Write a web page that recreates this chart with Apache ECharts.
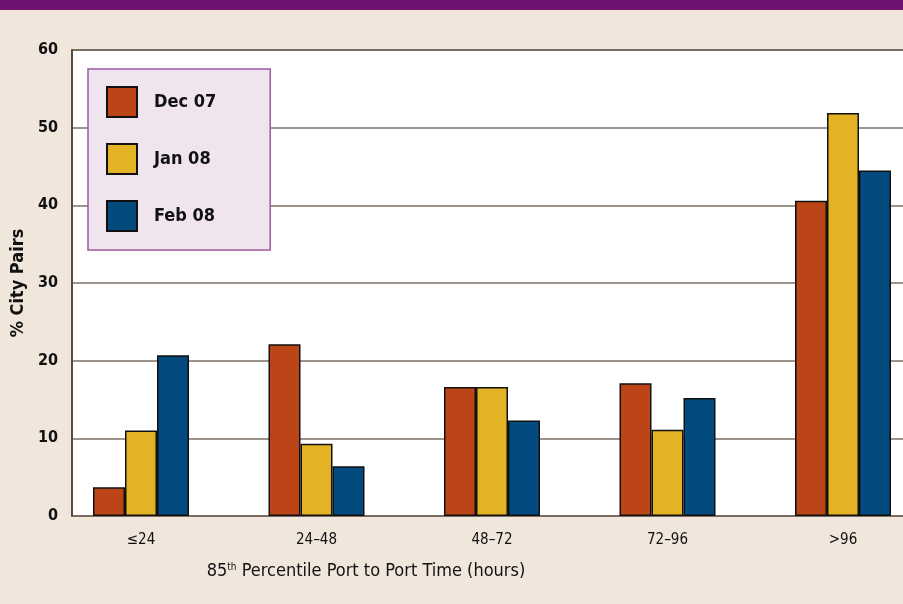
<!DOCTYPE html>
<html><head><meta charset="utf-8">
<script src="https://cdn.jsdelivr.net/npm/echarts@6/dist/echarts.min.js"></script>
<style>html,body{margin:0;padding:0;background:#f0e6dc;overflow:hidden;}#wrap{width:903px;height:604px;overflow:hidden;position:relative;}#c{width:940px;height:604px;}</style>
</head><body><div id="wrap"><div id="c"></div></div>
<script>
const categories = ['≤24', '24–48', '48–72', '72–96', '>96'];
const dec07 = [3.7, 22.1, 16.6, 17.1, 40.6];
const jan08 = [11.0, 9.3, 16.6, 11.1, 51.9];
const feb08 = [20.7, 6.4, 12.3, 15.2, 44.5];
const seriesNames = ['Dec 07', 'Jan 08', 'Feb 08'];
const yTicks = { min: 0, max: 60, interval: 10 };

const FONT = '"Liberation Sans Narrow","DejaVu Sans Condensed","Roboto Condensed",Arial,sans-serif';
const colors = ['#bc4518', '#e4b225', '#034a7e'];
const chart = echarts.init(document.getElementById('c'));
const mk = (name, data, i) => ({
  name, type: 'bar', data, xAxisIndex: 0, yAxisIndex: 0,
  barWidth: 32, barGap: '0%',
  itemStyle: { color: colors[i], borderColor: '#111', borderWidth: 1.5 }
});
chart.setOption({
  backgroundColor: '#f0e6dc',
  animation: false,
  textStyle: { fontFamily: FONT },
  graphic: [{ type: 'rect', left: 0, top: 0, shape: { width: 940, height: 10 }, style: { fill: '#6e1470' } }],
  legend: {
    orient: 'vertical', left: 88, top: 69,
    backgroundColor: '#f0e4ef', borderColor: '#9c5aa0', borderWidth: 1.5, borderRadius: 0,
    padding: [17, 54, 18, 18],
    itemWidth: 30, itemHeight: 30, itemGap: 25,
    icon: 'rect',
    textStyle: { fontFamily: FONT, fontWeight: 'bold', fontSize: 18, color: '#111', padding: [0, 0, 0, 12] },
    data: seriesNames
  },
  grid: [
    { left: 53.25, width: 877.5, top: 50, bottom: 88 },
    { left: 72, width: 850, top: 50, bottom: 88, show: true, backgroundColor: '#ffffff', borderColor: '#4f3f30', borderWidth: 1.5 }
  ],
  xAxis: [
    {
      type: 'category', gridIndex: 0, data: categories,
      axisLine: { show: false }, axisTick: { show: false },
      axisLabel: { fontFamily: FONT, fontSize: 15, color: '#111', margin: 17 },
      name: '{a|85}{s|th}{a| Percentile Port to Port Time (hours)}',
      nameLocation: 'middle', nameGap: 46,
      nameTextStyle: {
        padding: [0, 252, 0, 0],
        rich: {
          a: { fontFamily: FONT, fontSize: 18, color: '#111' },
          s: { fontFamily: FONT, fontSize: 10, color: '#111', verticalAlign: 'top', padding: [0, 0, 8, 0] }
        }
      }
    },
    { type: 'value', gridIndex: 1, show: false, min: 0, max: 1 }
  ],
  yAxis: [
    { type: 'value', gridIndex: 0, show: false, min: yTicks.min, max: yTicks.max, interval: yTicks.interval, splitLine: { show: false } },
    {
      type: 'value', gridIndex: 1, min: yTicks.min, max: yTicks.max, interval: yTicks.interval,
      axisLine: { show: true, lineStyle: { color: '#4f3f30', width: 1.5 } },
      axisTick: { show: false },
      splitLine: { show: true, lineStyle: { color: '#7b6f63', width: 1.5 } },
      axisLabel: { fontFamily: FONT, fontWeight: 'bold', fontSize: 16, color: '#111', margin: 14 },
      name: '% City Pairs', nameLocation: 'middle', nameGap: 37,
      nameTextStyle: { fontFamily: FONT, fontWeight: 'bold', fontSize: 18, color: '#111' }
    }
  ],
  series: [mk(seriesNames[0], dec07, 0), mk(seriesNames[1], jan08, 1), mk(seriesNames[2], feb08, 2)]
});
</script></body></html>
